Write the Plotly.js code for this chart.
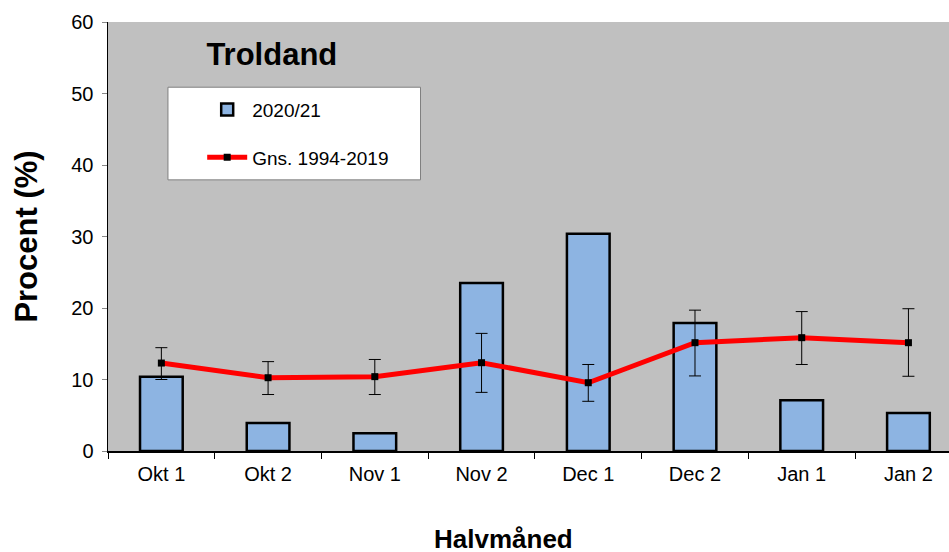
<!DOCTYPE html>
<html>
<head>
<meta charset="utf-8">
<script src="https://cdn.plot.ly/plotly-3.0.1.min.js"></script>
<style>html,body{margin:0;padding:0;background:#fff;}#chart{width:949px;height:552px;}</style>
</head>
<body>
<div id="chart"></div>
<script>
const categories = ["Okt 1","Okt 2","Nov 1","Nov 2","Dec 1","Dec 2","Jan 1","Jan 2"];
const season2021 = [10.4, 3.9, 2.5, 23.5, 30.4, 17.9, 7.1, 5.3];
const avg9419 = [12.3, 10.25, 10.4, 12.35, 9.55, 15.15, 15.85, 15.15];
const errUpper = [14.45, 12.5, 12.8, 16.45, 12.1, 19.7, 19.5, 19.9];
const errLower = [10.0, 7.9, 7.9, 8.2, 6.95, 10.5, 12.1, 10.45];
const yTicks = [0, 10, 20, 30, 40, 50, 60];

const plusErr = avg9419.map((v, i) => errUpper[i] - v);
const minusErr = avg9419.map((v, i) => v - errLower[i]);

const font = "Liberation Sans, Arial, sans-serif";

const traces = [
  {
    type: "bar", name: "2020/21", x: categories, y: season2021,
    width: 0.4,
    marker: {color: "#8DB4E2", line: {color: "#000", width: 2.5}},
    legendgroup: "a", hoverinfo: "x+y"
  },
  {
    type: "scatter", mode: "lines+markers", name: "Gns. 1994-2019",
    x: categories, y: avg9419,
    line: {color: "#FF0000", width: 5},
    marker: {symbol: "square", size: 7, color: "#000"},
    error_y: {type: "data", symmetric: false, array: plusErr, arrayminus: minusErr,
              color: "#000", thickness: 1, width: 6},
    legendgroup: "b"
  }
];

const layout = {
  width: 949, height: 552,
  margin: {l: 108, r: 0, t: 22, b: 101},
  paper_bgcolor: "#fff", plot_bgcolor: "#C0C0C0",
  font: {family: font, size: 20, color: "#000"},
  showlegend: true,
  title: {text: "<b>Troldand</b>", font: {family: font, size: 31, color: "#000"},
          xref: "paper", yref: "paper", x: 0.117, xanchor: "left", y: 0.925, yanchor: "middle"},
  xaxis: {
    type: "category", range: [-0.5, 7.38],
    showline: true, linecolor: "#000", linewidth: 1.5,
    ticks: "outside", ticklen: 6, tickcolor: "#000", tickson: "boundaries",
    tickfont: {family: font, size: 20}, ticklabelstandoff: 4,
    showgrid: false, zeroline: false
  },
  yaxis: {
    range: [0, 60], tickvals: yTicks, ticktext: yTicks.map(String),
    showline: true, linecolor: "#000", linewidth: 1.5,
    ticks: "outside", ticklen: 5, tickcolor: "#888",
    tickfont: {family: font, size: 20}, ticklabelstandoff: 4,
    showgrid: false, zeroline: false,
    title: {text: "<b>Procent (%)</b>", font: {family: font, size: 31}, standoff: 24}
  },
  legend: {
    x: 0.112, xanchor: "left", y: 0.84, yanchor: "top",
    bgcolor: "rgba(0,0,0,0)", borderwidth: 0,
    font: {family: font, size: 19},
    traceorder: "grouped", tracegroupgap: 20, itemwidth: 40
  },
  shapes: [{
    type: "rect", xref: "paper", yref: "paper",
    x0: 0.0713, x1: 0.3716, y0: 0.632, y1: 0.848,
    fillcolor: "#fff", line: {color: "#808080", width: 1}, layer: "below"
  }],
  annotations: [{
    text: "<b>Halvmåned</b>", xref: "paper", yref: "paper",
    x: (503 - 108) / 841, y: (451 - 539) / 429, xanchor: "center", yanchor: "middle",
    showarrow: false, font: {family: font, size: 26, color: "#000"}
  }],
  bargap: 0.6
};

Plotly.newPlot("chart", traces, layout, {displayModeBar: false, staticPlot: true});
</script>
</body>
</html>
